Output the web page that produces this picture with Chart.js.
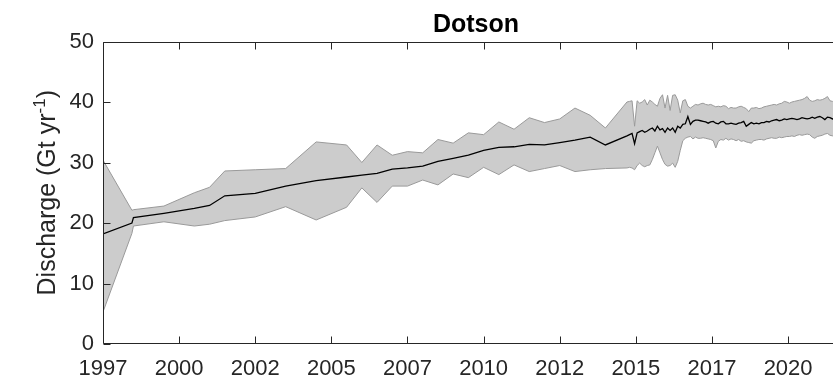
<!DOCTYPE html>
<html>
<head>
<meta charset="utf-8">
<script src="https://cdn.jsdelivr.net/npm/chart.js@4.4.1/dist/chart.umd.min.js"></script>
<style>
  html, body { margin: 0; padding: 0; background: #fff; overflow: hidden; }
  #wrap { width: 833px; height: 380px; overflow: hidden; }
</style>
</head>
<body>
<div id="wrap"><canvas id="chart" width="850" height="380"></canvas></div>
<script>
// Decimal years of each sample (yearly / half-yearly until 2014, then monthly)
const years = [
  1997.5, 1998.45, 1998.5, 1999.5, 2000.5, 2001.0, 2001.5, 2002.5, 2003.5, 2004.5,
  2005.5, 2006.0, 2006.5, 2007.0, 2007.5, 2008.0, 2008.5, 2009.0, 2009.5, 2010.0,
  2010.5, 2011.0, 2011.5, 2012.0, 2012.5, 2013.0, 2013.5, 2014.0, 2014.708, 2014.792,
  2014.875, 2014.958,
  2015.042, 2015.125, 2015.208, 2015.292, 2015.375, 2015.458, 2015.542, 2015.625, 2015.708, 2015.792, 2015.875, 2015.958,
  2016.042, 2016.125, 2016.208, 2016.292, 2016.375, 2016.458, 2016.542, 2016.625, 2016.708, 2016.792, 2016.875, 2016.958,
  2017.042, 2017.125, 2017.208, 2017.292, 2017.375, 2017.458, 2017.542, 2017.625, 2017.708, 2017.792, 2017.875, 2017.958,
  2018.042, 2018.125, 2018.208, 2018.292, 2018.375, 2018.458, 2018.542, 2018.625, 2018.708, 2018.792, 2018.875, 2018.958,
  2019.042, 2019.125, 2019.208, 2019.292, 2019.375, 2019.458, 2019.542, 2019.625, 2019.708, 2019.792, 2019.875, 2019.958,
  2020.042, 2020.125, 2020.208, 2020.292, 2020.375, 2020.458, 2020.542, 2020.625, 2020.708, 2020.792, 2020.875, 2020.958,
  2021.042, 2021.125, 2021.208, 2021.292, 2021.375, 2021.458, 2021.542, 2021.625, 2021.708, 2021.792, 2021.875, 2021.958
];

// Discharge, Gt/yr
const meanDischarge = [
  18.2, 20.0, 20.9, 21.6, 22.4, 22.9, 24.5, 24.9, 26.1, 27.0,
  27.6, 27.9, 28.2, 28.9, 29.1, 29.4, 30.2, 30.7, 31.2, 32.0,
  32.5, 32.6, 33.0, 32.9, 33.3, 33.7, 34.2, 32.9, 34.4, 34.6,
  34.8, 33.1, 34.9, 35.1, 35.3, 35.0, 35.2, 35.5, 35.7, 35.2,
  36.0, 35.4, 35.6, 35.0, 35.7, 35.3, 35.7, 35.0, 36.0, 35.7,
  36.3, 36.4, 37.6, 36.3, 36.8, 37.0, 37.0, 36.9, 36.8, 36.7,
  36.5, 36.7, 36.8, 36.5, 36.4, 36.7, 36.8, 36.4, 36.4, 36.5,
  36.4, 36.3, 36.5, 36.6, 36.8, 36.0, 36.3, 36.6, 36.4, 36.5,
  36.4, 36.6, 36.6, 36.8, 36.7, 36.9, 37.0, 37.1, 36.9, 37.0,
  37.2, 37.1, 37.2, 37.3, 37.2, 37.1, 37.2, 37.4, 37.3, 37.2,
  37.3, 37.5, 37.3, 37.5, 37.6, 37.4, 37.1, 37.5, 37.4, 37.2,
  37.3, 37.1, 37.2, 37.0, 37.1, 37.2
];
const upperDischarge = [
  30.4, 22.1, 22.2, 22.8, 25.0, 25.9, 28.6, 28.8, 29.0, 33.4,
  32.9, 30.0, 32.9, 31.2, 31.8, 31.6, 33.8, 33.2, 34.9, 34.6,
  36.7, 35.5, 37.4, 36.6, 37.2, 39.0, 37.8, 35.7, 40.0, 40.1,
  40.2, 36.0, 40.2, 39.8, 40.0, 40.4, 39.5, 40.3, 40.0, 39.6,
  39.3, 40.6, 41.2, 39.0, 41.1, 38.6, 41.1, 41.2, 40.3, 38.2,
  40.2, 40.4, 39.3, 39.0, 39.3, 39.6, 39.5, 39.7, 39.8, 39.6,
  39.5, 39.6, 39.4, 39.2, 39.3, 39.2, 39.4, 39.3, 38.9, 39.1,
  39.0, 39.0, 39.2, 39.3, 39.1, 38.9, 38.4, 39.0, 39.0, 39.1,
  38.9, 39.0, 39.2, 39.3, 39.4, 39.5, 39.6, 39.5, 39.7, 39.8,
  40.1, 40.0, 39.8, 40.0, 40.1, 40.2, 40.3, 40.4, 40.6, 40.9,
  40.3, 40.1, 40.2, 40.4, 40.3, 40.4, 40.6, 40.9, 40.2, 40.1,
  40.3, 40.5, 40.2, 40.4, 40.1, 40.3
];
const lowerDischarge = [
  5.3, 18.3, 19.5, 20.2, 19.5, 19.8, 20.4, 21.0, 22.7, 20.5,
  22.6, 25.8, 23.4, 26.1, 26.1, 27.1, 26.3, 28.1, 27.5, 29.2,
  28.0, 29.6, 28.5, 29.0, 29.5, 28.5, 28.8, 29.0, 29.1, 29.2,
  29.1, 28.8, 29.5, 29.9, 29.5, 29.3, 29.5, 29.6, 30.5, 31.6,
  32.7, 31.6, 30.5, 29.7, 29.4, 29.5, 29.9, 29.2, 30.2, 32.0,
  33.6, 34.0, 34.2, 34.3, 33.9, 34.2, 34.0, 34.0, 34.1, 34.0,
  33.9, 33.8, 33.6, 32.4, 33.5, 33.8, 33.7, 34.0, 33.7, 33.9,
  33.8, 33.6, 33.8, 33.5, 33.6, 33.4, 33.3, 33.2, 33.6, 33.7,
  33.8, 33.8, 33.7, 33.9, 34.0, 34.1, 34.0, 34.0, 34.2, 34.1,
  34.2, 34.3, 34.3, 34.4, 34.3, 34.5, 34.6, 34.5, 34.6, 34.7,
  34.6, 34.2, 34.0, 34.3, 34.4, 34.5, 34.7, 34.8, 34.5, 34.4,
  34.5, 34.6, 34.4, 34.5, 34.6, 34.5
];

// Axis ticks
const xTickValues = [1997.5, 2000, 2002.5, 2005, 2007.5, 2010, 2012.5, 2015, 2017.5, 2020];
const xTickLabels = ['1997', '2000', '2002', '2005', '2007', '2010', '2012', '2015', '2017', '2020'];
const yTickValues = [0, 10, 20, 30, 40, 50];

const FONT = "'Liberation Sans', Arial, Helvetica, sans-serif";
const AXIS_COLOR = '#262626';
const TICK_LEN = 7;

const toPoints = (vals) => years.map((t, i) => ({ x: t, y: vals[i] }));

// Boîte d'axes façon MATLAB, graduations vers l'intérieur
const axesBox = {
  id: 'axesBox',
  afterDatasetsDraw(chart) {
    const { ctx, chartArea: a, scales: { x, y } } = chart;
    const L = Math.round(a.left) + 0.5, R = Math.round(a.right) - 0.5;
    const T = Math.round(a.top) + 0.5, B = Math.round(a.bottom) - 0.5;
    ctx.save();
    ctx.strokeStyle = AXIS_COLOR;
    ctx.lineWidth = 1;
    ctx.beginPath();
    ctx.rect(L, T, R - L, B - T);
    x.ticks.forEach(t => {
      const px = Math.round(x.getPixelForValue(t.value)) + 0.5;
      ctx.moveTo(px, B); ctx.lineTo(px, B - TICK_LEN);
      ctx.moveTo(px, T); ctx.lineTo(px, T + TICK_LEN);
    });
    y.ticks.forEach(t => {
      const py = Math.round(y.getPixelForValue(t.value)) + 0.5;
      ctx.moveTo(L, py); ctx.lineTo(L + TICK_LEN, py);
      ctx.moveTo(R, py); ctx.lineTo(R - TICK_LEN, py);
    });
    ctx.stroke();
    ctx.restore();
  }
};

// Titre de l'axe Y avec exposant
const yAxisTitle = {
  id: 'yAxisTitle',
  afterDraw(chart) {
    const { ctx, chartArea: a } = chart;
    const main = 'Discharge (Gt yr', sup = '-1', close = ')';
    const mainFont = `25px ${FONT}`, supFont = `17px ${FONT}`;
    ctx.save();
    ctx.fillStyle = AXIS_COLOR;
    ctx.font = mainFont;
    const w1 = ctx.measureText(main).width, w3 = ctx.measureText(close).width;
    ctx.font = supFont;
    const w2 = ctx.measureText(sup).width;
    const total = w1 + w2 + w3;
    ctx.translate(55, (a.top + a.bottom) / 2);
    ctx.rotate(-Math.PI / 2);
    ctx.textBaseline = 'alphabetic';
    ctx.textAlign = 'left';
    let x0 = -total / 2;
    ctx.font = mainFont;
    ctx.fillText(main, x0, 0);
    ctx.font = supFont;
    ctx.fillText(sup, x0 + w1, -10);
    ctx.font = mainFont;
    ctx.fillText(close, x0 + w1 + w2, 0);
    ctx.restore();
  }
};

new Chart(document.getElementById('chart').getContext('2d'), {
  type: 'line',
  data: {
    datasets: [
      {
        label: 'Mean',
        data: toPoints(meanDischarge),
        borderColor: '#000000',
        borderWidth: 1.3,
        pointRadius: 0,
        fill: false,
      },
      {
        label: 'Upper',
        data: toPoints(upperDischarge),
        borderColor: '#9a9a9a',
        borderWidth: 1,
        pointRadius: 0,
        backgroundColor: '#cccccc',
        fill: '+1',
      },
      {
        label: 'Lower',
        data: toPoints(lowerDischarge),
        borderColor: '#9a9a9a',
        borderWidth: 1,
        pointRadius: 0,
        fill: false,
      },
    ],
  },
  options: {
    responsive: false,
    animation: false,
    layout: { padding: { left: 0, right: 1, top: 0, bottom: 0 } },
    elements: { line: { tension: 0 } },
    plugins: {
      legend: { display: false },
      tooltip: { enabled: false },
      filler: { drawTime: 'beforeDatasetsDraw' },
      title: {
        display: true,
        text: 'Dotson',
        color: '#000000',
        fullSize: false,
        font: { family: FONT, size: 25, weight: 'bold', lineHeight: 1.2 },
        padding: { top: 10, bottom: 1.5 },
      },
    },
    scales: {
      x: {
        type: 'linear',
        min: 1997.5,
        max: 2022,
        grid: { display: false, drawTicks: false },
        border: { display: false },
        afterBuildTicks: (scale) => { scale.ticks = xTickValues.map(v => ({ value: v })); },
        afterFit: (scale) => { scale.height = 36; },
        ticks: {
          autoSkip: false,
          maxRotation: 0,
          padding: 12,
          color: AXIS_COLOR,
          font: { family: FONT, size: 22 },
          callback: (v, i) => xTickLabels[i],
        },
      },
      y: {
        type: 'linear',
        min: 0,
        max: 50,
        grid: { display: false, drawTicks: false },
        border: { display: false },
        afterBuildTicks: (scale) => { scale.ticks = yTickValues.map(v => ({ value: v })); },
        afterFit: (scale) => { scale.width = 103; },
        ticks: {
          padding: 9,
          color: AXIS_COLOR,
          font: { family: FONT, size: 22 },
        },
      },
    },
  },
  plugins: [axesBox, yAxisTitle],
});
</script>
</body>
</html>
